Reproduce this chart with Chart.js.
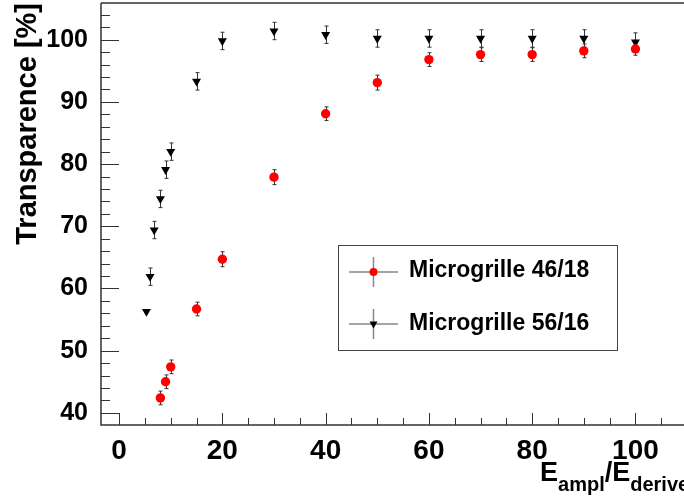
<!DOCTYPE html>
<html>
<head>
<meta charset="utf-8">
<script src="https://cdn.jsdelivr.net/npm/chart.js@4.4.0/dist/chart.umd.min.js"></script>
<style>
html, body { margin: 0; padding: 0; background: #fff; }
#wrap { width: 684px; height: 498px; }
</style>
</head>
<body>
<div id="wrap"><canvas id="chart"></canvas></div>
<script>
// Microgrille 46/18 (red circles)
var redX = [8, 9, 10, 15, 20, 30, 40, 50, 60, 70, 80, 90, 100];
var redY = [42.4, 45.0, 47.4, 56.7, 64.7, 77.9, 88.1, 93.1, 96.8, 97.6, 97.6, 98.2, 98.5];
var redErr = [1.1, 1.1, 1.1, 1.1, 1.2, 1.2, 1.1, 1.2, 1.1, 1.1, 1.1, 1.1, 1.0];

// Microgrille 56/16 (black triangles)
var blackX = [5.3, 6, 6.8, 8, 9, 10, 15, 20, 30, 40, 50, 60, 70, 80, 90, 100];
var blackY = [56.3, 61.9, 69.4, 74.4, 79.1, 82.0, 93.3, 99.8, 101.4, 100.8, 100.2, 100.2, 100.2, 100.2, 100.2, 99.6];
var blackErr = [0, 1.4, 1.4, 1.4, 1.4, 1.4, 1.4, 1.4, 1.4, 1.4, 1.4, 1.4, 1.4, 1.4, 1.4, 1.5];

var seriesLabels = ['Microgrille 46/18', 'Microgrille 56/16'];
var xTitleParts = [['E', 'ampl'], ['/E', 'derive']];
var yTitle = 'Transparence [%]';

var FONT = "'Liberation Sans', Arial, Helvetica, sans-serif";

function toPoints(xs, ys, errs) {
    var pts = [];
    for (var i = 0; i < xs.length; i++) {
        pts.push({ x: xs[i], y: ys[i], err: errs[i] });
    }
    return pts;
}

// error bars with small caps, drawn under the markers
var errorBars = {
    id: 'errorBars',
    beforeDatasetsDraw: function (chart) {
        var ctx = chart.ctx;
        var ys = chart.scales.y, xs = chart.scales.x;
        ctx.save();
        ctx.strokeStyle = '#333';
        ctx.lineWidth = 1;
        chart.data.datasets.forEach(function (ds) {
            ds.data.forEach(function (p) {
                if (!p.err) return;
                var px = Math.round(xs.getPixelForValue(p.x)) + 0.5;
                var top = ys.getPixelForValue(p.y + p.err);
                var bot = ys.getPixelForValue(p.y - p.err);
                ctx.beginPath();
                ctx.moveTo(px, top);
                ctx.lineTo(px, bot);
                ctx.moveTo(px - 2, top);
                ctx.lineTo(px + 2, top);
                ctx.moveTo(px - 2, bot);
                ctx.lineTo(px + 2, bot);
                ctx.stroke();
            });
        });
        ctx.restore();
    }
};

// ROOT style frame: inward major/minor ticks, axis lines, top line
var frame = {
    id: 'frame',
    afterDraw: function (chart) {
        var ctx = chart.ctx;
        var a = chart.chartArea;
        var xs = chart.scales.x, ys = chart.scales.y;
        ctx.save();
        ctx.strokeStyle = '#333';
        ctx.lineWidth = 1.5;
        ctx.beginPath();
        ctx.moveTo(a.left, a.top);
        ctx.lineTo(a.right, a.top);
        ctx.moveTo(a.left, a.top);
        ctx.lineTo(a.left, a.bottom);
        ctx.lineTo(a.right, a.bottom);
        ctx.stroke();

        ctx.lineWidth = 1;
        ctx.beginPath();
        var v, p;
        for (v = 0; v <= xs.max; v += 5) {
            p = Math.round(xs.getPixelForValue(v)) + 0.5;
            var len = (v % 20 === 0) ? 12 : 7;
            ctx.moveTo(p, a.bottom);
            ctx.lineTo(p, a.bottom - len);
        }
        for (v = 40; v <= ys.max; v += 2) {
            p = Math.round(ys.getPixelForValue(v)) + 0.5;
            var l2 = (v % 10 === 0) ? 18 : 9;
            ctx.moveTo(a.left, p);
            ctx.lineTo(a.left + l2, p);
        }
        ctx.stroke();

        // x title with subscripts, right part runs off the canvas like the original
        var x = 540;
        ctx.fillStyle = '#000';
        ctx.textBaseline = 'alphabetic';
        xTitleParts.forEach(function (part) {
            ctx.font = 'bold 27px ' + FONT;
            ctx.fillText(part[0], x, 481);
            x += ctx.measureText(part[0]).width;
            ctx.font = 'bold 20px ' + FONT;
            ctx.fillText(part[1], x, 491);
            x += ctx.measureText(part[1]).width;
        });
        ctx.restore();
    }
};

// legend box inside the plot
var boxLegend = {
    id: 'boxLegend',
    afterDraw: function (chart) {
        var ctx = chart.ctx;
        ctx.save();
        ctx.fillStyle = '#fff';
        ctx.fillRect(338, 245, 279, 105);
        ctx.strokeStyle = '#444';
        ctx.lineWidth = 1;
        ctx.strokeRect(338.5, 245.5, 279, 105);
        var rows = [[272, 277], [324, 330]];
        chart.data.datasets.forEach(function (ds, i) {
            var cy = rows[i][0];
            ctx.strokeStyle = '#888';
            ctx.lineWidth = 1.5;
            ctx.beginPath();
            ctx.moveTo(349, cy);
            ctx.lineTo(398, cy);
            ctx.moveTo(373.5, cy - 15);
            ctx.lineTo(373.5, cy + 15);
            ctx.stroke();
            ctx.fillStyle = ds.backgroundColor;
            ctx.beginPath();
            if (ds.pointStyle === 'circle') {
                ctx.arc(373.5, cy, 4, 0, Math.PI * 2);
            } else {
                ctx.moveTo(369.5, cy - 2.5);
                ctx.lineTo(377.5, cy - 2.5);
                ctx.lineTo(373.5, cy + 4.5);
                ctx.closePath();
            }
            ctx.fill();
            ctx.fillStyle = '#000';
            ctx.font = 'bold 23px ' + FONT;
            ctx.textBaseline = 'alphabetic';
            ctx.fillText(ds.label, 409, rows[i][1]);
        });
        ctx.restore();
    }
};

var whiteBg = {
    id: 'whiteBg',
    beforeDraw: function (chart) {
        var ctx = chart.ctx;
        ctx.save();
        ctx.fillStyle = '#fff';
        ctx.fillRect(0, 0, chart.width, chart.height);
        ctx.restore();
    }
};

var chart = new Chart(document.getElementById('chart'), {
    type: 'scatter',
    data: {
        datasets: [{
            label: seriesLabels[0],
            data: toPoints(redX, redY, redErr),
            pointStyle: 'circle',
            pointRadius: 4.7,
            backgroundColor: '#ff0000',
            borderColor: '#ff0000',
            borderWidth: 0
        }, {
            label: seriesLabels[1],
            data: toPoints(blackX, blackY, blackErr),
            pointStyle: 'triangle',
            pointRotation: 180,
            pointRadius: 5.2,
            backgroundColor: '#000',
            borderColor: '#000',
            borderWidth: 0
        }]
    },
    options: {
        responsive: true,
        maintainAspectRatio: false,
        animation: false,
        layout: { autoPadding: false, padding: { top: 3, left: 0, right: 0, bottom: 0 } },
        plugins: {
            legend: { display: false },
            tooltip: { enabled: false }
        },
        scales: {
            x: {
                type: 'linear',
                min: -3.5,
                max: 109.4,
                grid: { display: false },
                border: { display: false },
                ticks: {
                    stepSize: 20,
                    includeBounds: false,
                    padding: 1,
                    color: '#000',
                    font: { family: FONT, size: 28, weight: 'bold' },
                    maxRotation: 0
                },
                afterFit: function (s) {
                    s.height = 73;
                    s.paddingLeft = 0;
                    s.paddingRight = 0;
                }
            },
            y: {
                type: 'linear',
                min: 38.05,
                max: 105.9,
                grid: { display: false },
                border: { display: false },
                ticks: {
                    stepSize: 10,
                    includeBounds: false,
                    padding: 5,
                    color: '#000',
                    font: { family: FONT, size: 25, weight: 'bold' }
                },
                title: {
                    display: true,
                    text: yTitle,
                    align: 'end',
                    color: '#000',
                    padding: { top: 11, bottom: 0 },
                    font: { family: FONT, size: 29, weight: 'bold' }
                },
                afterFit: function (s) {
                    s.width = 101;
                    s.paddingTop = 0;
                    s.paddingBottom = 0;
                }
            }
        }
    },
    plugins: [whiteBg, errorBars, frame, boxLegend]
});
</script>
</body>
</html>
